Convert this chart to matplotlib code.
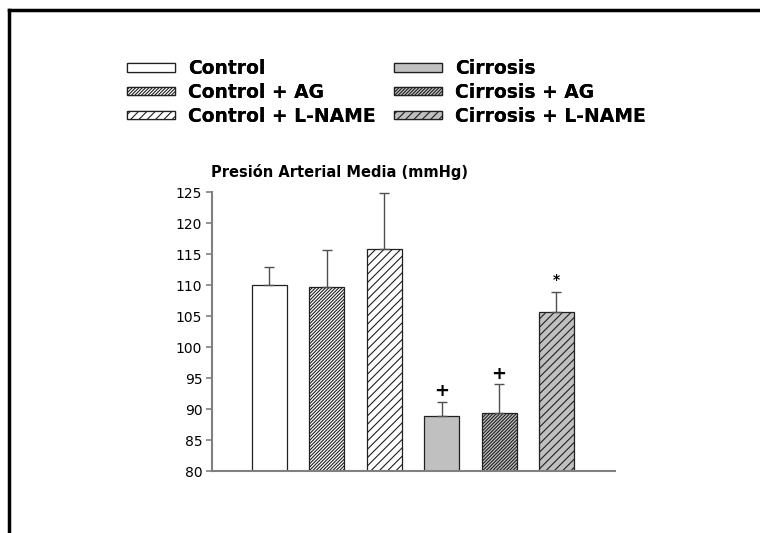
import matplotlib
matplotlib.use("Agg")
import matplotlib.pyplot as plt
from matplotlib.patches import Patch
from matplotlib.lines import Line2D

plt.rcParams['font.family'] = ['DejaVu Sans']
plt.rcParams['hatch.linewidth'] = 0.8

groups = ["Control", "Control + AG", "Control + L-NAME",
          "Cirrosis", "Cirrosis + AG", "Cirrosis + L-NAME"]
means = [110.0, 109.7, 115.8, 88.8, 89.3, 105.6]
err_upper = [2.9, 5.9, 9.1, 2.4, 4.7, 3.2]
marks = ["", "", "", "+", "+", "*"]

faces = ["white", "white", "white", "#c0c0c0", "#c0c0c0", "#c0c0c0"]
hatches = [None, "//////////", "////", None, "//////////", "////"]

fig = plt.figure(figsize=(7.6, 5.33), dpi=100)

# page frame (top and left rules)
fig.add_artist(Line2D([9 / 760, 1.0], [1 - 10 / 533, 1 - 10 / 533],
                      color="black", lw=2.5, transform=fig.transFigure))
fig.add_artist(Line2D([9 / 760, 9 / 760], [1 - 10 / 533, 0.0],
                      color="black", lw=2.5, transform=fig.transFigure))

ax = fig.add_axes([212 / 760, 1 - 471 / 533, (615 - 212) / 760, (471 - 192) / 533])

x = list(range(len(groups)))
bars = ax.bar(x, [m - 80 for m in means], bottom=80, width=0.61,
              color=faces, edgecolor="#202020", linewidth=0.9, zorder=2)
for b, h in zip(bars, hatches):
    if h:
        b.set_hatch(h)

ax.errorbar(x, means, yerr=[[0] * len(means), err_upper], fmt="none",
            ecolor="#505050", elinewidth=1.0, capsize=3.5, capthick=1.0, zorder=3)

for xi, m, e, s in zip(x, means, err_upper, marks):
    if s == "+":
        ax.text(xi, m + e + 0.2, s, ha="center", va="bottom",
                fontsize=13, fontweight="bold")
    elif s:
        ax.text(xi, m + e + 0.9, s, ha="center", va="bottom",
                fontsize=10, fontweight="bold")

ax.set_xlim(-1.0, 6.02)
ax.set_ylim(80, 125)
ax.set_yticks(range(80, 126, 5))
ax.set_xticks([])
for side in ("top", "right"):
    ax.spines[side].set_visible(False)
for side in ("left", "bottom"):
    ax.spines[side].set_color("#808080")
    ax.spines[side].set_linewidth(1.5)
ax.tick_params(axis="y", colors="#808080", length=4, width=1.2,
               labelcolor="black", labelsize=10, pad=3)

fig.text(211 / 760, 1 - 172 / 533, "Presión Arterial Media (mmHg)",
         ha="left", va="center", fontsize=10.5, fontweight="bold")

handles = [Patch(facecolor=f, edgecolor="#202020", hatch=h, linewidth=0.9)
           for f, h in zip(faces, hatches)]
legend_kw = dict(loc="upper left", frameon=False, borderaxespad=0, borderpad=0,
                 handlelength=2.56, handleheight=0.32, handletextpad=0.69,
                 labelspacing=0.26, prop={"size": 13.5, "weight": "bold"})
for col, x0 in ((0, 127), (1, 394)):
    leg = fig.legend(handles[col * 3:col * 3 + 3], groups[col * 3:col * 3 + 3],
                     bbox_to_anchor=(x0 / 760, 1 - 59 / 533), **legend_kw)
    fig.add_artist(leg)

fig.savefig("out.png", dpi=100, facecolor="white")
